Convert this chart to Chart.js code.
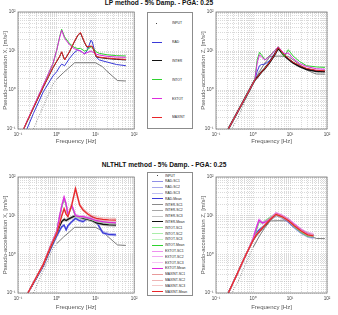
<!DOCTYPE html>
<html lang="en">
<head>
<meta charset="UTF-8">
<title>Pseudo-acceleration spectra</title>
<script src="https://cdn.jsdelivr.net/npm/chart.js"></script>
<style>
  body { margin: 0; background: #fff; font-family: "Liberation Sans", Arial, sans-serif; }
  #page { position: relative; width: 338px; height: 315px; overflow: hidden; }
  canvas { position: absolute; }
  .title { position: absolute; font-size: 6.6px; line-height: 8px; font-weight: bold; color: #111; white-space: nowrap; transform: translateX(-50%); }
  .legend { position: absolute; border: 1px solid #8c8c8c; box-sizing: border-box; background: #fff; }
  .legend .sample { position: absolute; height: 0; }
  .legend .dot { position: absolute; width: 1px; height: 1px; background: #444; }
  .legend .label { position: absolute; font-size: 7px; line-height: 8px; white-space: nowrap; color: #222;
                   transform: scale(0.48); transform-origin: 0 50%; }
</style>
</head>
<body>
<div id="page">
  <div class="title" style="left:159px; top:-1px">LP method - 5% Damp. - PGA: 0.25</div>
  <div class="title" style="left:164px; top:161px">NLTHLT method - 5% Damp. - PGA: 0.25</div>
  <canvas id="lpX" width="140" height="150" style="left:0; top:0"></canvas>
  <canvas id="lpZ" width="140" height="150" style="left:196px; top:0"></canvas>
  <canvas id="nlX" width="140" height="155" style="left:0; top:160px"></canvas>
  <canvas id="nlZ" width="140" height="155" style="left:196px; top:160px"></canvas>
  <div id="legTop" class="legend" style="left:147px; top:12px; width:46px; height:117px"></div>
  <div id="legBot" class="legend" style="left:147px; top:172px; width:46px; height:124px"></div>
</div>

<script>
// axis decades and their labels
const DECADES = [0.1, 1, 10, 100];
const DECADE_LABELS = ['10\u207B\u00B9', '10\u2070', '10\u00B9', '10\u00B2'];

const GROUPS = ['RAD', 'INTER', 'INTOT', 'EXTOT', 'MAXINT'];

// input motion spectrum
const inputFreqX = [0.25, 0.45, 0.8, 1.0, 1.5, 2.0, 2.9, 5, 10, 15, 20, 30, 37, 61];
const inputX     = [0.1, 0.38, 1.41, 1.9, 2.8, 3.6, 5.0, 5.0, 5.0, 4.0, 3.0, 2.1, 1.75, 1.7];
const inputFreqZ = [0.215, 0.4, 0.7, 1.0, 1.5, 2.0, 2.9, 5, 9, 12, 18, 28, 40, 52, 88];
const inputZ     = [0.07, 0.2, 0.7, 1.5, 3.0, 4.6, 7.3, 7.4, 7.3, 6.0, 4.5, 3.3, 2.8, 2.57, 2.55];

// LP method, X direction
const lpFreqX = [0.14, 0.17, 0.25, 0.45, 0.8, 1.0, 1.2, 1.34, 1.6, 2.15, 2.8, 3.5, 4.1, 5.2, 6.0, 7.7, 8.3, 10.5, 12.5, 20, 35, 61];
const lpX_RAD    = [0.068, 0.1, 0.25, 0.9, 2.3, 2.95, 4.0, 4.6, 4.2, 6.5, 9, 10.6, 10, 8.4, 10, 19, 17, 7.0, 5.9, 5.2, 4.5, 4.2];
const lpX_INTER  = [0.1, 0.15, 0.34, 1.18, 3.7, 5.4, 7.3, 9.4, 5.9, 9.6, 16.5, 25, 29, 16.5, 12.6, 13, 12.8, 7.1, 6.8, 6.4, 6.1, 5.9];
const lpX_INTOT  = [0.1, 0.155, 0.36, 1.3, 4.7, 10.5, 24, 36, 23, 15.5, 12.5, 11.5, 11.7, 10, 10.5, 12.9, 12.5, 9.5, 8.7, 8.0, 7.6, 7.45];
const lpX_EXTOT  = [0.1, 0.16, 0.37, 1.34, 4.8, 10.6, 23, 34, 21, 14.3, 11.5, 10.6, 10, 8.4, 9, 10, 9.5, 8.3, 7.9, 7.3, 7.0, 6.9];
const lpX_MAXINT = [0.1, 0.155, 0.35, 1.2, 3.8, 5.5, 7.5, 9.6, 5.9, 9.8, 17, 25.7, 30, 17, 12.9, 13.4, 13.2, 7.3, 7.0, 6.6, 6.3, 6.1];

// LP method, Z direction
const lpFreqZ = [0.215, 0.4, 0.7, 1.0, 1.13, 1.3, 1.5, 1.7, 2.1, 2.9, 3.8, 4.8, 5.8, 7.0, 9.0, 12, 18, 28, 52, 88];
const lpZ_RAD    = [0.1, 0.295, 0.79, 1.48, 1.9, 3.0, 4.2, 4.5, 4.6, 5.8, 8.5, 12, 10, 8, 6.4, 5.1, 4.2, 3.5, 3.1, 3.0];
const lpZ_INTER  = [0.1, 0.295, 0.79, 1.48, 1.83, 2.1, 2.5, 2.9, 3.6, 5.3, 7.9, 11.8, 9.5, 7.6, 6.2, 5.0, 4.0, 3.4, 3.0, 2.95];
const lpZ_INTOT  = [0.1, 0.295, 0.79, 1.48, 2.0, 6.0, 9.2, 8.0, 5.9, 7.8, 10, 12.8, 10, 7.2, 10.8, 7.5, 5.4, 4.2, 3.9, 3.8];
const lpZ_EXTOT  = [0.1, 0.295, 0.79, 1.48, 1.9, 5.0, 8.0, 7.0, 5.9, 7.5, 10, 12.8, 10.5, 8.5, 8.9, 6.5, 4.8, 4.0, 3.5, 3.4];
const lpZ_MAXINT = [0.1, 0.295, 0.79, 1.48, 1.83, 2.1, 2.5, 2.9, 3.6, 5.4, 8.0, 12.2, 10, 8, 6.5, 5.2, 4.3, 3.6, 3.2, 3.1];

// NLTHLT method, X direction (SC1, SC2, SC3, Mean)
const nlFreqX = [0.18, 0.3, 0.45, 0.7, 1.0, 1.2, 1.35, 1.55, 1.75, 1.95, 2.45, 3.05, 3.9, 4.8, 6.3, 8, 10.5, 15.5, 22, 34];
const nlX_RAD = [
  [0.1, 0.25, 0.52, 1.5, 3.2, 4.5, 5.5, 6.0, 4.6, 5.8, 7.4, 9.0, 7.9, 7.4, 9.0, 10, 7.5, 3.9, 3.5, 3.4],
  [0.1, 0.23, 0.48, 1.3, 2.8, 3.9, 4.9, 5.3, 4.0, 5.1, 6.6, 8.0, 7.0, 6.6, 8.0, 8.8, 6.6, 3.4, 3.1, 3.0],
  [0.1, 0.24, 0.5, 1.45, 3.1, 4.3, 5.3, 5.9, 4.4, 5.6, 7.2, 8.7, 7.6, 7.2, 8.7, 9.6, 7.2, 3.7, 3.4, 3.3],
  [0.1, 0.24, 0.5, 1.4, 3.0, 4.2, 5.2, 5.7, 4.3, 5.5, 7.0, 8.5, 7.4, 7.0, 8.5, 9.4, 7.0, 3.6, 3.3, 3.2]
];
const nlX_INTER = [
  [0.1, 0.26, 0.55, 1.6, 3.6, 5.8, 7.4, 8.5, 8.0, 8.5, 9.6, 10.7, 9.6, 9.0, 8.5, 8.0, 7.0, 6.4, 6.2, 6.1],
  [0.1, 0.24, 0.5, 1.4, 3.2, 5.2, 6.6, 7.5, 7.0, 7.5, 8.4, 9.4, 8.4, 8.0, 7.5, 7.0, 6.1, 5.6, 5.4, 5.3],
  [0.1, 0.25, 0.53, 1.55, 3.5, 5.6, 7.2, 8.2, 7.7, 8.2, 9.2, 10.3, 9.3, 8.8, 8.2, 7.7, 6.7, 6.2, 6.0, 5.9],
  [0.1, 0.25, 0.52, 1.5, 3.4, 5.5, 7.0, 8.0, 7.5, 8.0, 9.0, 10, 9.0, 8.5, 8.0, 7.5, 6.5, 6.0, 5.8, 5.7]
];
const nlX_INTOT = [
  [0.1, 0.27, 0.57, 1.75, 4.1, 10.6, 18.5, 30, 20.5, 10.8, 19.2, 10.4, 9.7, 9.7, 9.1, 8.6, 7.8, 7.3, 7.0, 6.8],
  [0.1, 0.25, 0.53, 1.6, 3.7, 9.4, 16, 26, 18, 9.6, 17, 9.3, 8.8, 8.8, 8.2, 7.7, 7.0, 6.6, 6.3, 6.1],
  [0.1, 0.26, 0.55, 1.7, 3.9, 10.1, 17.4, 28.5, 19.3, 10.3, 18.3, 9.9, 9.3, 9.3, 8.7, 8.2, 7.4, 7.0, 6.7, 6.5],
  [0.1, 0.26, 0.55, 1.7, 3.9, 10, 17, 28, 19, 10.2, 18, 9.8, 9.2, 9.2, 8.6, 8.1, 7.3, 6.9, 6.6, 6.4]
];
const nlX_EXTOT = [
  [0.1, 0.27, 0.58, 1.8, 4.2, 11, 20, 33, 22, 11.5, 20, 11, 10, 10, 9.3, 8.7, 8.0, 7.4, 7.1, 6.9],
  [0.1, 0.25, 0.52, 1.6, 3.7, 9.8, 17, 28, 19, 10, 17.5, 9.6, 9.0, 9.0, 8.5, 8.0, 7.2, 6.8, 6.5, 6.3],
  [0.1, 0.26, 0.56, 1.75, 4.0, 10.6, 19, 31, 21, 10.8, 19.5, 10.4, 9.7, 9.6, 9.0, 8.5, 7.7, 7.2, 6.9, 6.7],
  [0.1, 0.26, 0.55, 1.7, 3.9, 10.4, 18, 30, 20, 10.4, 18.7, 10, 9.4, 9.4, 8.8, 8.3, 7.5, 7.0, 6.7, 6.5]
];
const nlX_MAXINT = [
  [0.1, 0.27, 0.58, 1.7, 3.7, 7.0, 11, 16.5, 12, 10.2, 21, 56, 21, 15.5, 12.2, 10.4, 9.4, 8.8, 8.6, 8.5],
  [0.1, 0.25, 0.53, 1.5, 3.3, 6.1, 9.4, 14, 10.4, 9.0, 17.5, 45, 17.5, 13, 10.3, 8.9, 8.0, 7.5, 7.3, 7.2],
  [0.1, 0.26, 0.56, 1.65, 3.6, 6.8, 10.5, 15.8, 11.6, 9.9, 20, 53, 20, 14.8, 11.7, 10, 9.0, 8.5, 8.3, 8.2],
  [0.1, 0.26, 0.55, 1.6, 3.5, 6.5, 10, 15, 11, 9.5, 19, 50, 19, 14, 11, 9.5, 8.5, 8.0, 7.8, 7.7]
];

// NLTHLT method, Z direction (SC1, SC2, SC3, Mean)
const nlFreqZ = [0.215, 0.35, 0.5, 0.7, 1.0, 1.2, 1.45, 1.8, 2.3, 3.0, 4.2, 6, 9, 13, 20, 30, 43];
const nlZ_RAD = [
  [0.1, 0.28, 0.6, 1.2, 2.4, 3.6, 4.5, 5.3, 6.6, 8.5, 11.1, 9.6, 7.5, 5.3, 3.8, 3.1, 2.9],
  [0.1, 0.26, 0.56, 1.1, 2.2, 3.2, 4.0, 4.7, 5.9, 7.6, 9.9, 8.5, 6.6, 4.7, 3.4, 2.75, 2.55],
  [0.1, 0.27, 0.58, 1.16, 2.35, 3.5, 4.3, 5.1, 6.3, 8.2, 10.7, 9.2, 7.1, 5.1, 3.7, 3.0, 2.75],
  [0.1, 0.27, 0.58, 1.15, 2.3, 3.4, 4.2, 5.0, 6.2, 8.0, 10.5, 9.0, 7.0, 5.0, 3.6, 2.9, 2.7]
];
const nlZ_INTER = [
  [0.1, 0.28, 0.6, 1.2, 2.4, 3.2, 3.9, 5.0, 6.4, 8.5, 11.2, 9.9, 7.8, 6.0, 4.5, 3.6, 3.3],
  [0.1, 0.26, 0.56, 1.1, 2.2, 2.85, 3.5, 4.5, 5.7, 7.6, 10.0, 8.8, 6.9, 5.3, 4.0, 3.2, 2.95],
  [0.1, 0.27, 0.59, 1.17, 2.35, 3.1, 3.8, 4.8, 6.1, 8.2, 10.8, 9.5, 7.5, 5.7, 4.3, 3.5, 3.2],
  [0.1, 0.27, 0.58, 1.15, 2.3, 3.0, 3.7, 4.7, 6.0, 8.0, 10.5, 9.3, 7.3, 5.6, 4.2, 3.4, 3.1]
];
const nlZ_INTOT = [
  [0.1, 0.28, 0.6, 1.2, 2.55, 4.3, 7.5, 6.9, 8.0, 9.6, 11.7, 10.1, 8.5, 5.7, 4.1, 3.2, 3.1],
  [0.1, 0.26, 0.56, 1.1, 2.3, 3.8, 6.6, 6.1, 7.1, 8.5, 10.4, 9.0, 7.5, 5.0, 3.6, 2.85, 2.75],
  [0.1, 0.27, 0.58, 1.16, 2.45, 4.1, 7.2, 6.6, 7.6, 9.2, 11.2, 9.7, 8.1, 5.4, 3.9, 3.05, 2.95],
  [0.1, 0.27, 0.58, 1.15, 2.4, 4.0, 7.0, 6.5, 7.5, 9.0, 11.0, 9.5, 8.0, 5.3, 3.8, 3.0, 2.9]
];
const nlZ_EXTOT = [
  [0.1, 0.28, 0.6, 1.2, 2.7, 4.9, 8.4, 7.0, 7.5, 9.1, 12.3, 10.7, 8.6, 6.4, 4.6, 3.7, 3.5],
  [0.1, 0.26, 0.56, 1.1, 2.35, 4.2, 7.1, 6.1, 6.6, 8.0, 10.8, 9.4, 7.5, 5.6, 4.0, 3.2, 3.0],
  [0.1, 0.27, 0.58, 1.16, 2.55, 4.6, 7.9, 6.7, 7.2, 8.7, 11.8, 10.3, 8.2, 6.2, 4.4, 3.5, 3.3],
  [0.1, 0.27, 0.58, 1.15, 2.5, 4.5, 7.7, 6.5, 7.0, 8.5, 11.5, 10, 8.0, 6.0, 4.3, 3.4, 3.2]
];
const nlZ_MAXINT = [
  [0.1, 0.28, 0.6, 1.2, 2.4, 3.3, 4.0, 5.1, 6.7, 8.7, 11.5, 10.1, 8.0, 5.9, 4.3, 3.4, 3.2],
  [0.1, 0.26, 0.56, 1.1, 2.2, 2.95, 3.6, 4.6, 6.0, 7.8, 10.2, 9.0, 7.1, 5.2, 3.8, 3.0, 2.85],
  [0.1, 0.27, 0.59, 1.17, 2.35, 3.2, 3.9, 4.9, 6.4, 8.4, 11.0, 9.7, 7.7, 5.6, 4.1, 3.3, 3.1],
  [0.1, 0.27, 0.58, 1.15, 2.3, 3.1, 3.8, 4.8, 6.3, 8.2, 10.8, 9.5, 7.5, 5.5, 4.0, 3.2, 3.0]
];

// colours: main, then light shades for the three scenarios
const COLORS = {
  INPUT: '#5a5a5a',
  RAD: '#3a3ad8', INTER: '#111111', INTOT: '#2fd22f', EXTOT: '#dd2bdd', MAXINT: '#e8262a'
};
const SC_COLORS = {
  RAD: ['#9090e6', '#a8a8ec', '#c0c0f2'],
  INTER: ['#8a8a8a', '#a6a6a6', '#c4c4c4'],
  INTOT: ['#90e690', '#aaeeaa', '#c2f3c2'],
  EXTOT: ['#ee90ee', '#f2aaf2', '#f6c4f6'],
  MAXINT: ['#e89a9a', '#eeb4b4', '#f4caca']
};

// grid lines at 1..9 x each decade
const GRID_TICKS = [];
DECADES.slice(0, -1).forEach(d => { for (let m = 1; m <= 9; m++) GRID_TICKS.push(+(d * m).toPrecision(3)); });
GRID_TICKS.push(DECADES[DECADES.length - 1]);

function decadeLabel(v) {
  const i = DECADES.findIndex(d => Math.abs(d - v) / d < 1e-6);
  return i >= 0 ? DECADE_LABELS[i] : '';
}

function line(freq, vals, color, width, extra) {
  return Object.assign({
    data: freq.map((f, i) => ({ x: f, y: vals[i] })),
    borderColor: color, borderWidth: width,
    pointRadius: 0, fill: false, tension: 0
  }, extra || {});
}

function inputLine(freq, vals) {
  return line(freq, vals, COLORS.INPUT, 0.8, {
    segment: { borderDash: ctx => (ctx.p1.parsed.x <= 1.0 ? [0.8, 1.8] : undefined) }
  });
}

const framePlugin = {
  id: 'frame',
  afterDraw(chart) {
    const a = chart.chartArea, c = chart.ctx;
    c.save();
    c.strokeStyle = '#777';
    c.lineWidth = 0.8;
    c.strokeRect(a.left, a.top, a.right - a.left, a.bottom - a.top);
    c.restore();
  }
};

function axis(size, titleText, titlePad) {
  return {
    type: 'logarithmic',
    min: DECADES[0], max: DECADES[DECADES.length - 1],
    afterBuildTicks: s => { s.ticks = GRID_TICKS.map(v => ({ value: v })); },
    afterFit: s => { if (s.isHorizontal()) s.height = size; else s.width = size; },
    grid: { color: '#b4b4b4', lineWidth: 0.5, drawTicks: false },
    border: { display: false, dash: [1, 1] },
    ticks: {
      autoSkip: false, maxRotation: 0, padding: 2.5, color: '#444',
      font: { size: 4.6, family: 'Liberation Sans, Arial, sans-serif' },
      callback: v => decadeLabel(v)
    },
    title: {
      display: true, text: titleText, color: '#555', padding: titlePad,
      font: { size: 6, family: 'Liberation Sans, Arial, sans-serif' }
    }
  };
}

function makeChart(id, datasets, pad, yWidth, xHeight, yTitle, yTitlePad, xTitlePad) {
  const n = datasets.length;
  datasets.forEach((d, i) => { d.order = n - i; });
  new Chart(document.getElementById(id), {
    type: 'line',
    data: { datasets },
    options: {
      responsive: false,
      animation: false,
      layout: { padding: pad },
      plugins: { legend: { display: false }, tooltip: { enabled: false } },
      scales: {
        x: axis(xHeight, 'Frequency [Hz]', xTitlePad),
        y: axis(yWidth, yTitle, yTitlePad)
      }
    },
    plugins: [framePlugin]
  });
}

// LP panels
const lpXSeries = { RAD: lpX_RAD, INTER: lpX_INTER, INTOT: lpX_INTOT, EXTOT: lpX_EXTOT, MAXINT: lpX_MAXINT };
const lpZSeries = { RAD: lpZ_RAD, INTER: lpZ_INTER, INTOT: lpZ_INTOT, EXTOT: lpZ_EXTOT, MAXINT: lpZ_MAXINT };

makeChart('lpX',
  [inputLine(inputFreqX, inputX)].concat(GROUPS.map(g => line(lpFreqX, lpXSeries[g], COLORS[g], 1))),
  { top: 12, right: 5, left: 0, bottom: 0 }, 18, 21,
  'Pseudo-acceleration X, [m/s\u00B2]', { top: 1.5, bottom: 0 }, { top: 0, bottom: 5 });

makeChart('lpZ',
  [inputLine(inputFreqZ, inputZ)].concat(GROUPS.map(g =>
    line(lpFreqZ, lpZSeries[g], COLORS[g], g === 'INTER' ? 1.8 : 1))),
  { top: 12, right: 9, left: 0, bottom: 0 }, 20, 21,
  'Pseudo-acceleration Z, [m/s\u00B2]', { top: 3.5, bottom: 0 }, { top: 0, bottom: 5 });

// NLTHLT panels
function nlSets(freq, table) {
  const sets = [];
  GROUPS.forEach(g => {
    table[g].forEach((vals, k) => {
      const mean = k === 3;
      sets.push(line(freq, vals, mean ? COLORS[g] : SC_COLORS[g][k], mean ? 1.3 : 0.7));
    });
  });
  return sets;
}
const nlXTable = { RAD: nlX_RAD, INTER: nlX_INTER, INTOT: nlX_INTOT, EXTOT: nlX_EXTOT, MAXINT: nlX_MAXINT };
const nlZTable = { RAD: nlZ_RAD, INTER: nlZ_INTER, INTOT: nlZ_INTOT, EXTOT: nlZ_EXTOT, MAXINT: nlZ_MAXINT };

makeChart('nlX',
  [inputLine(inputFreqX, inputX)].concat(nlSets(nlFreqX, nlXTable)),
  { top: 17, right: 5, left: 0, bottom: 0 }, 18, 22,
  'Pseudo-acceleration X, [m/s\u00B2]', { top: 1.5, bottom: 0 }, { top: 0, bottom: 4.5 });

makeChart('nlZ',
  [inputLine(inputFreqZ, inputZ)].concat(nlSets(nlFreqZ, nlZTable)),
  { top: 17, right: 9, left: 0, bottom: 0 }, 20, 22,
  'Pseudo-acceleration Z, [m/s\u00B2]', { top: 3.5, bottom: 0 }, { top: 0, bottom: 4.5 });

// legends
function buildLegend(id, entries, firstRow, gap, lineLeft, lineW, textLeft) {
  const box = document.getElementById(id);
  entries.forEach((e, i) => {
    const y = firstRow + i * gap;
    if (e.dot) {
      const d = document.createElement('div');
      d.className = 'dot';
      d.style.left = (lineLeft + lineW / 2 - 0.5) + 'px';
      d.style.top = (y - 0.5) + 'px';
      box.appendChild(d);
    } else {
      const s = document.createElement('div');
      s.className = 'sample';
      s.style.left = lineLeft + 'px';
      s.style.width = lineW + 'px';
      s.style.top = (y - e.width / 2) + 'px';
      s.style.borderTop = e.width + 'px solid ' + e.color;
      box.appendChild(s);
    }
    const t = document.createElement('div');
    t.className = 'label';
    t.textContent = e.name;
    t.style.left = textLeft + 'px';
    t.style.top = (y - 4) + 'px';
    box.appendChild(t);
  });
}

const topEntries = [{ name: 'INPUT', dot: true }].concat(
  GROUPS.map(g => ({ name: g, color: COLORS[g], width: 1 })));
buildLegend('legTop', topEntries, 10.3, 18.8, 3.5, 10, 23.5);

const botEntries = [{ name: 'INPUT', dot: true }];
GROUPS.forEach(g => {
  ['SC1', 'SC2', 'SC3'].forEach((sc, k) => botEntries.push({ name: g + '-' + sc, color: SC_COLORS[g][k], width: 0.7 }));
  botEntries.push({ name: g + '-Mean', color: COLORS[g], width: 1.2 });
});
buildLegend('legBot', botEntries, 2.5, 5.8, 3.5, 11, 16.5);
</script>
</body>
</html>
